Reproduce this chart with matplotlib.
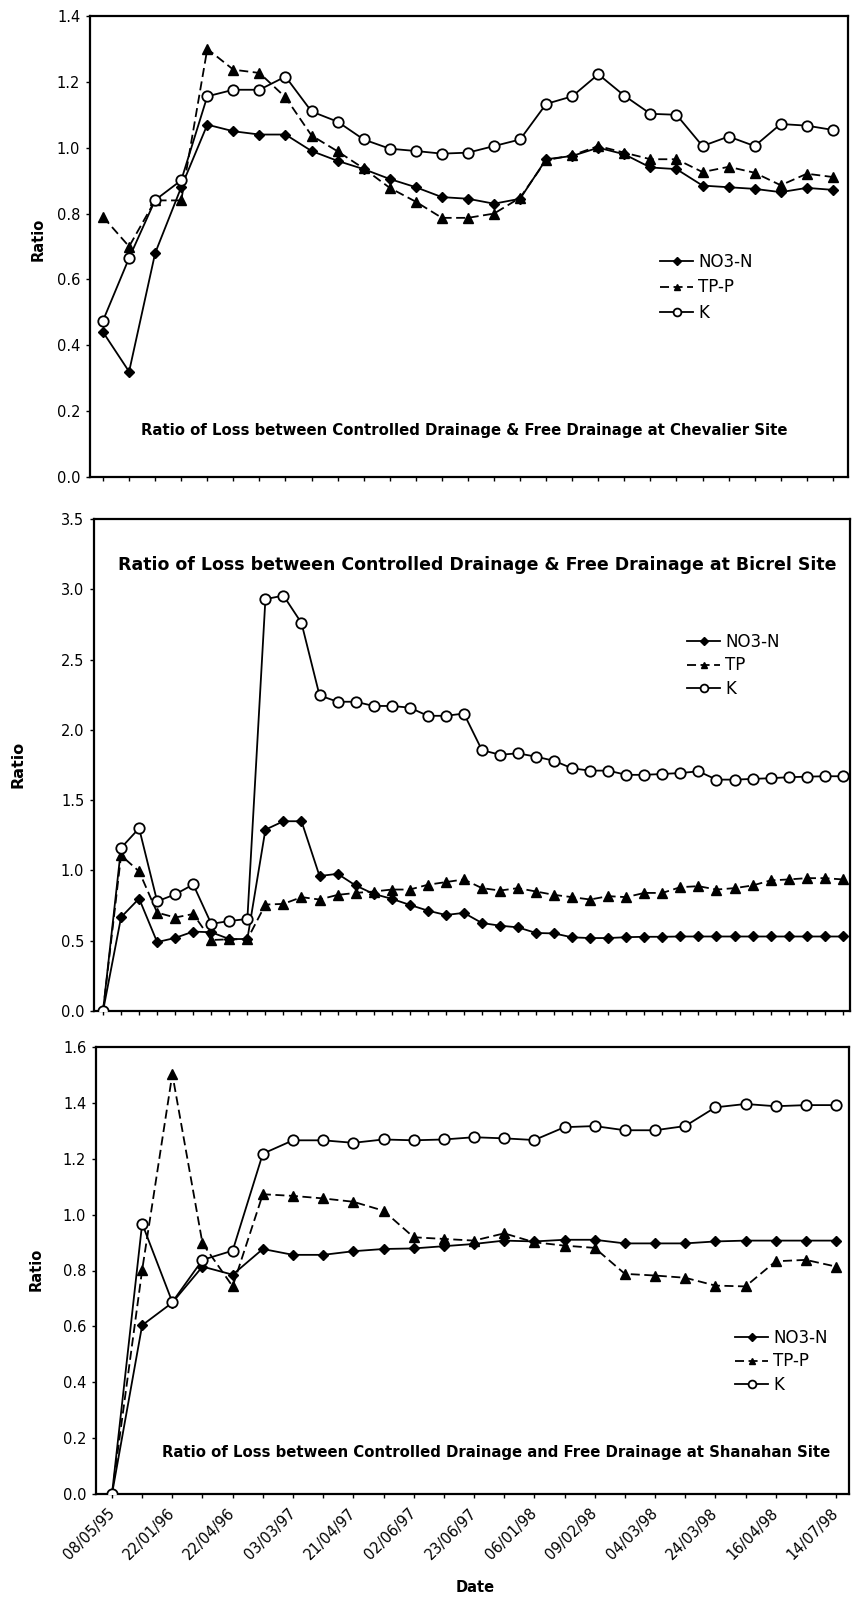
import matplotlib
matplotlib.use("Agg")
import matplotlib.pyplot as plt
from matplotlib.ticker import MultipleLocator, FormatStrFormatter

plt.rcParams["font.family"] = ["DejaVu Sans"]

# ---- Chevalier site (29 sampling dates) ----
chev_no3 = [0.44, 0.32, 0.68, 0.88, 1.07, 1.05, 1.04, 1.04, 0.99, 0.96, 0.935,
            0.905, 0.88, 0.85, 0.845, 0.83, 0.845, 0.965, 0.975, 1.00, 0.98,
            0.94, 0.935, 0.885, 0.88, 0.875, 0.865, 0.878, 0.872]
chev_tp = [0.79, 0.70, 0.84, 0.84, 1.30, 1.237, 1.227, 1.153, 1.037, 0.989,
           0.937, 0.878, 0.836, 0.787, 0.787, 0.80, 0.848, 0.962, 0.977, 1.005,
           0.985, 0.965, 0.965, 0.926, 0.942, 0.924, 0.886, 0.921, 0.911]
chev_k = [0.475, 0.665, 0.841, 0.901, 1.156, 1.176, 1.176, 1.216, 1.11, 1.079,
          1.025, 0.997, 0.99, 0.982, 0.985, 1.005, 1.025, 1.133, 1.156, 1.223,
          1.158, 1.103, 1.10, 1.005, 1.034, 1.005, 1.072, 1.067, 1.054]

# ---- Bicrel site (42 sampling dates) ----
bic_no3 = [0, 0.667, 0.80, 0.49, 0.52, 0.565, 0.56, 0.512, 0.512, 1.29, 1.35,
           1.35, 0.96, 0.976, 0.893, 0.833, 0.798, 0.755, 0.714, 0.683, 0.698,
           0.626, 0.607, 0.595, 0.555, 0.552, 0.524, 0.519, 0.519, 0.525,
           0.528, 0.528, 0.53, 0.53, 0.53, 0.53, 0.53, 0.53, 0.53, 0.53, 0.53,
           0.53]
bic_tp = [0, 1.107, 0.993, 0.70, 0.665, 0.69, 0.505, 0.51, 0.51, 0.757, 0.762,
          0.81, 0.793, 0.826, 0.84, 0.85, 0.864, 0.864, 0.898, 0.917, 0.936,
          0.874, 0.857, 0.874, 0.85, 0.826, 0.81, 0.793, 0.817, 0.81, 0.84,
          0.84, 0.881, 0.888, 0.864, 0.874, 0.893, 0.929, 0.936, 0.945, 0.945,
          0.936]
bic_k = [0, 1.16, 1.30, 0.78, 0.83, 0.90, 0.62, 0.64, 0.655, 2.93, 2.955, 2.76,
         2.245, 2.20, 2.20, 2.17, 2.17, 2.158, 2.10, 2.10, 2.116, 1.856, 1.823,
         1.833, 1.809, 1.78, 1.726, 1.71, 1.71, 1.68, 1.68, 1.686, 1.693,
         1.705, 1.646, 1.646, 1.651, 1.656, 1.663, 1.667, 1.67, 1.67]

# ---- Shanahan site (25 sampling dates) ----
shan_no3 = [0, 0.604, 0.685, 0.814, 0.785, 0.877, 0.856, 0.856, 0.869, 0.877,
            0.879, 0.887, 0.895, 0.907, 0.904, 0.91, 0.91, 0.897, 0.897, 0.897,
            0.904, 0.907, 0.907, 0.907, 0.907]
shan_tp = [0, 0.802, 1.503, 0.897, 0.743, 1.073, 1.067, 1.058, 1.046, 1.014,
           0.919, 0.913, 0.907, 0.933, 0.901, 0.889, 0.881, 0.788, 0.782,
           0.774, 0.746, 0.743, 0.833, 0.838, 0.814]
shan_k = [0, 0.968, 0.687, 0.838, 0.871, 1.218, 1.266, 1.266, 1.257, 1.269,
          1.266, 1.269, 1.277, 1.273, 1.267, 1.313, 1.317, 1.302, 1.302, 1.317,
          1.384, 1.396, 1.388, 1.392, 1.392]

date_labels = ["08/05/95", "22/01/96", "22/04/96", "03/03/97", "21/04/97",
               "02/06/97", "23/06/97", "06/01/98", "09/02/98", "04/03/98",
               "24/03/98", "16/04/98", "14/07/98"]

titles = [
    "Ratio of Loss between Controlled Drainage & Free Drainage at Chevalier Site",
    "Ratio of Loss between Controlled Drainage & Free Drainage at Bicrel Site",
    "Ratio of Loss between Controlled Drainage and Free Drainage at Shanahan Site",
]

W, H = 853, 1600
fig = plt.figure(figsize=(W / 100, H / 100), dpi=100)


def px_box(left, right, top, bottom):
    return [left / W, 1 - bottom / H, (right - left) / W, (bottom - top) / H]


def fpt(x, y):
    return (x / W, 1 - y / H)


def draw_panel(rect, no3, tp, k, tp_label, ymax, ystep, xlim):
    ax = fig.add_axes(rect)
    x = list(range(len(no3)))
    ax.plot(x, no3, color="black", lw=1.3, marker="D", ms=5, mfc="black",
            mec="black", label="NO3-N", zorder=3)
    ax.plot(x, tp, color="black", lw=1.3, ls=(0, (5, 2.5)), marker="^", ms=6.5,
            mfc="black", mec="black", label=tp_label, zorder=3)
    ax.plot(x, k, color="black", lw=1.3, marker="o", ms=7.5, mfc="white",
            mec="black", mew=1.3, label="K", zorder=4)
    ax.set_xlim(*xlim)
    ax.set_ylim(0, ymax)
    ax.yaxis.set_major_locator(MultipleLocator(ystep))
    ax.yaxis.set_major_formatter(FormatStrFormatter("%.1f"))
    ax.set_xticks(x)
    ax.tick_params(axis="both", direction="out", length=3, width=1,
                   colors="black")
    ax.tick_params(axis="y", pad=4, labelsize=10.5)
    for s in ax.spines.values():
        s.set_linewidth(1.6)
        s.set_color("black")
    return ax


legend_kw = dict(bbox_transform=fig.transFigure, frameon=False, borderpad=0,
                 borderaxespad=0, handlelength=2.0, handletextpad=0.3,
                 markerscale=0.75, prop={"family": "DejaVu Sans", "size": 12})

# Top: Chevalier
ax1 = draw_panel(px_box(90, 848, 16, 477), chev_no3, chev_tp, chev_k, "TP-P",
                 1.4, 0.2, (-0.5, 28.58))
ax1.tick_params(axis="x", labelbottom=False)
ax1.legend(loc="upper left", bbox_to_anchor=fpt(660, 253), labelspacing=0.45,
           **legend_kw)

# Middle: Bicrel
ax2 = draw_panel(px_box(94, 850, 519, 1011), bic_no3, bic_tp, bic_k, "TP",
                 3.5, 0.5, (-0.5, 41.4))
ax2.tick_params(axis="x", labelbottom=False)
ax2.legend(loc="upper left", bbox_to_anchor=fpt(687, 633), labelspacing=0.32,
           **legend_kw)

# Bottom: Shanahan
ax3 = draw_panel(px_box(96, 849, 1047, 1494), shan_no3, shan_tp, shan_k, "TP-P",
                 1.6, 0.2, (-0.53, 24.43))
xt_labels = [date_labels[i // 2] if i % 2 == 0 else "" for i in range(len(shan_no3))]
ax3.set_xticklabels(xt_labels, rotation=45, ha="right", va="center",
                    rotation_mode="anchor", fontsize=10.5)
ax3.tick_params(axis="x", pad=9)
ax3.legend(loc="upper left", bbox_to_anchor=fpt(735, 1329), labelspacing=0.32,
           **legend_kw)

# Panel titles written inside the plot areas
fig.text(*fpt(464, 430), titles[0], ha="center", va="center",
         fontsize=10.7, fontweight="bold")
fig.text(*fpt(477, 565), titles[1], ha="center", va="center",
         fontsize=12.5, fontweight="bold")
fig.text(*fpt(496, 1453), titles[2], ha="center", va="center",
         fontsize=10.7, fontweight="bold")

# Axis labels
fig.text(*fpt(38, 239), "Ratio", rotation=90, ha="center", va="center",
         fontsize=10.5, fontweight="bold")
fig.text(*fpt(18, 764), "Ratio", rotation=90, ha="center", va="center",
         fontsize=11.5, fontweight="bold")
fig.text(*fpt(36, 1269), "Ratio", rotation=90, ha="center", va="center",
         fontsize=10.5, fontweight="bold")
fig.text(*fpt(475, 1588), "Date", ha="center", va="center",
         fontsize=10.5, fontweight="bold")

fig.savefig("out.png", dpi=100, facecolor="white")
